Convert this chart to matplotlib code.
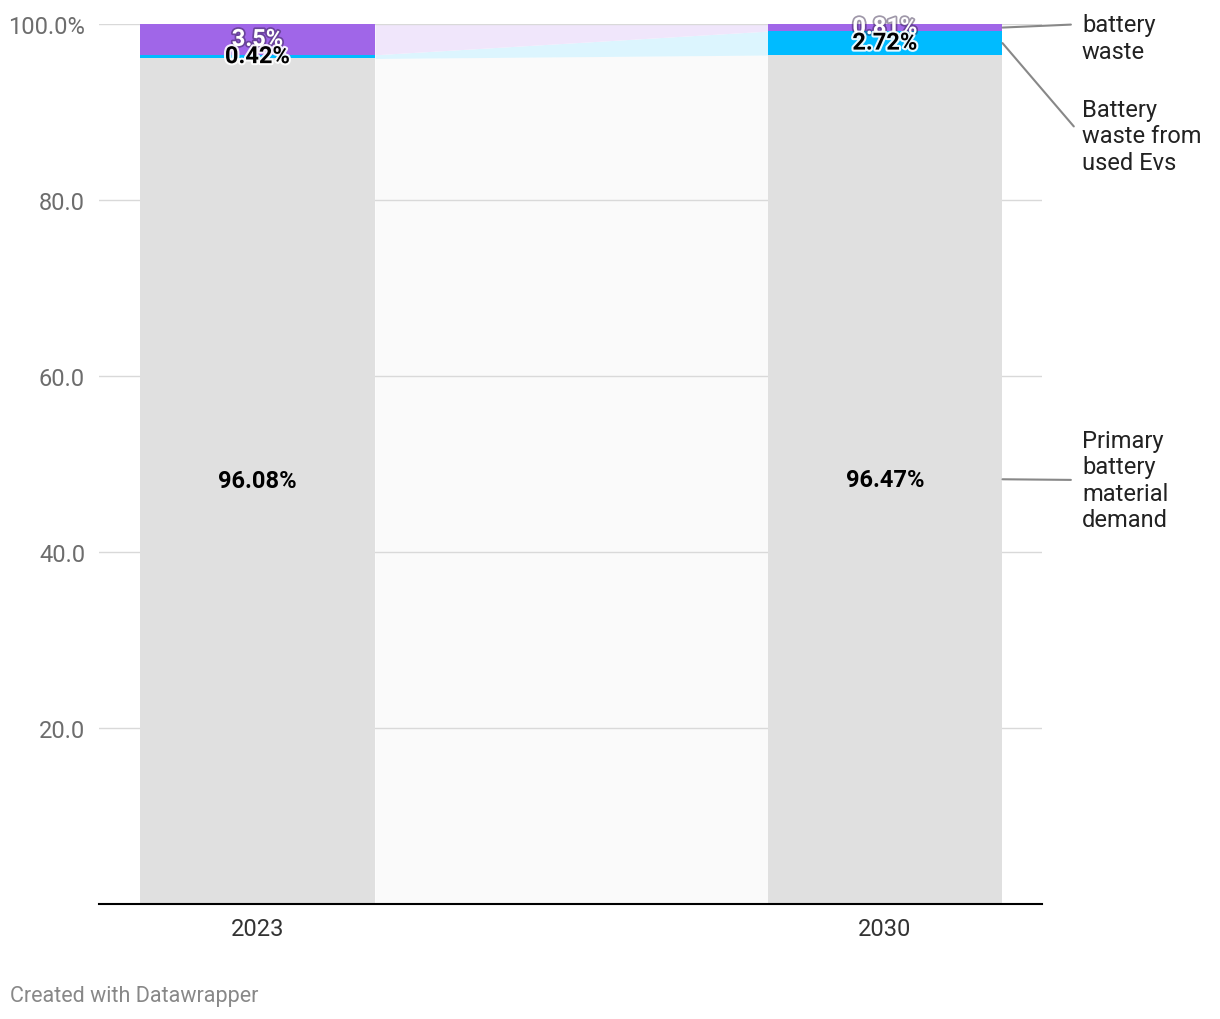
import matplotlib
matplotlib.use('Agg')
import matplotlib.pyplot as plt
import matplotlib.patheffects as pe

# ── Data ─────────────────────────────────────────────────────────────────────
years = ['2023', '2030']
primary = [96.08, 96.47]      # Primary battery material demand
used_evs = [0.42, 2.72]       # Battery waste from used Evs
waste = [3.5, 0.81]           # battery waste
yticks = [20, 40, 60, 80, 100]

# ── Style ────────────────────────────────────────────────────────────────────
C_PRIM, C_EVS, C_WASTE = '#e0e0e0', '#00bbff', '#a066e8'
F_PRIM, F_EVS, F_WASTE = '#fafafa', '#dcf5fe', '#f0e6fb'
GRID, TICK, TEXT = '#d9d9d9', '#6d6d6d', '#222222'
FS = 17
plt.rcParams['font.family'] = ['Roboto', 'DejaVu Sans']

fig = plt.figure(figsize=(12.2, 10.2), dpi=100)
ax = fig.add_axes([99 / 1220, 115.5 / 1020, 943 / 1220, 879.5 / 1020])

x = [0, 1]
w = 0.3745
bottoms_evs = primary
bottoms_waste = [p + e for p, e in zip(primary, used_evs)]
tops = [b + v for b, v in zip(bottoms_waste, waste)]

# connecting bands between the bars
xb = [x[0] + w / 2, x[1] - w / 2]
ax.fill_between(xb, [0, 0], primary, color=F_PRIM, lw=0, zorder=0.5)
ax.fill_between(xb, bottoms_evs, bottoms_waste, color=F_EVS, lw=0, zorder=0.5)
ax.fill_between(xb, bottoms_waste, tops, color=F_WASTE, lw=0, zorder=0.5)

for t in yticks:
    ax.axhline(t, color=GRID, lw=1, zorder=1)

ax.bar(x, primary, w, color=C_PRIM, zorder=2)
ax.bar(x, used_evs, w, bottom=bottoms_evs, color=C_EVS, zorder=2)
ax.bar(x, waste, w, bottom=bottoms_waste, color=C_WASTE, zorder=2)

dark = [pe.withStroke(linewidth=2.5, foreground='#2a1a40', alpha=0.45)]
light = [pe.withStroke(linewidth=3, foreground='white', alpha=0.9)]
for i in range(2):
    ax.text(x[i], primary[i] / 2, f'{primary[i]:.2f}%', ha='center', va='center',
            fontsize=FS, fontweight='bold', color='black', zorder=5)
    ax.text(x[i], bottoms_waste[i] + waste[i] / 2, f'{waste[i]:g}%', ha='center', va='center',
            fontsize=FS, fontweight='bold', color='white', path_effects=dark, zorder=5)
    ax.text(x[i], bottoms_evs[i] + used_evs[i] / 2, f'{used_evs[i]:g}%', ha='center', va='center',
            fontsize=FS, fontweight='bold', color='black', path_effects=light, zorder=6)

# right-hand labels
labels = [('battery\nwaste', bottoms_waste[1] + waste[1] / 2, 981, 0.78),
          ('Battery\nwaste from\nused Evs', bottoms_evs[1] + used_evs[1] / 2, 883, 0.5),
          ('Primary\nbattery\nmaterial\ndemand', primary[1] / 2, 539, 0.5)]
for txt, yv, ypix, rp in labels:
    ax.annotate(txt, xy=(x[1] + w / 2, yv), xytext=(1082, ypix), textcoords='figure pixels',
                ha='left', va='center', fontsize=FS, color=TEXT, linespacing=1.2,
                annotation_clip=False,
                arrowprops=dict(arrowstyle='-', color='#888888', lw=1.5,
                                relpos=(0, rp), shrinkA=6, shrinkB=0))

ax.set_xlim(-0.2526, 1.2502)
ax.set_ylim(0, 100)
ax.set_xticks(x)
ax.set_xticklabels(years, fontsize=FS, color='#333333')
ax.set_yticks(yticks)
ax.set_yticklabels([f'{t:.1f}%' if t == 100 else f'{t:.1f}' for t in yticks],
                   fontsize=FS, color=TICK)
ax.tick_params(axis='y', length=0, pad=10)
ax.tick_params(axis='x', length=0, pad=10)
for s in ['top', 'right', 'left']:
    ax.spines[s].set_visible(False)
ax.spines['bottom'].set_color('black')
ax.spines['bottom'].set_linewidth(1.5)
ax.spines['bottom'].set_zorder(4)

fig.text(10 / 1220, 1 - 997 / 1020, 'Created with Datawrapper', ha='left', va='center',
         fontsize=15.5, color='#888888')

fig.savefig('out.png', dpi=100, facecolor='white')
